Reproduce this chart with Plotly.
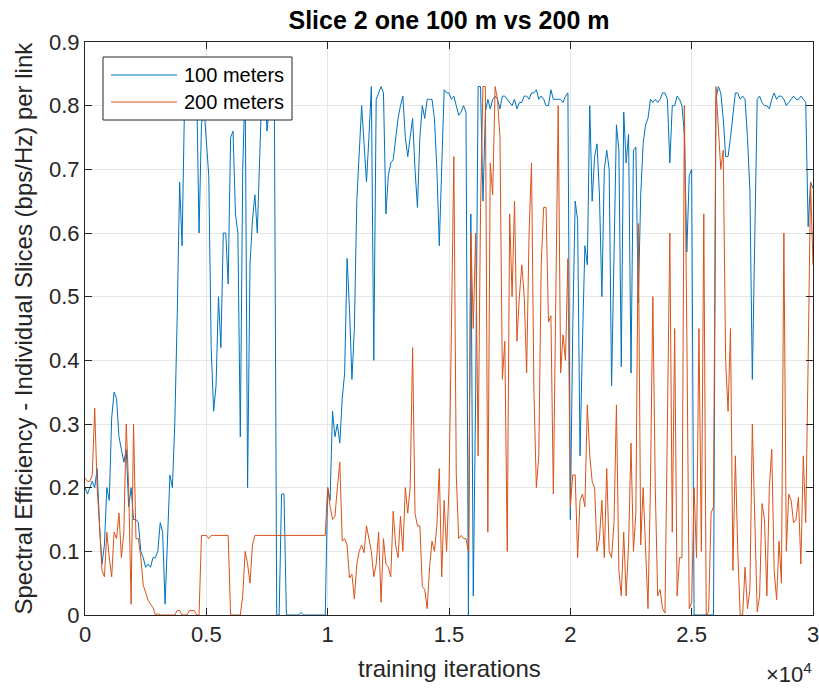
import numpy as np
import plotly.graph_objects as go

step = 100
iterations = np.arange(0, 30001, step)

blue_100m = [
    0.2, 0.19, 0.2, 0.21, 0.2, 0.23, 0.14, 0.08, 0.11, 0.2,            # 0-900
    0.18, 0.31, 0.35, 0.34, 0.28, 0.26, 0.24, 0.26, 0.17, 0.2,         # 1000-1900
    0.15, 0.15, 0.145, 0.1, 0.09, 0.075, 0.08, 0.075, 0.09, 0.09,      # 2000-2900
    0.1, 0.145, 0.13, 0.017, 0.12, 0.22, 0.2, 0.3, 0.47, 0.68,         # 3000-3900
    0.58, 0.8, 0.83, 0.83, 0.83, 0.82, 0.83, 0.6, 0.77, 0.8,           # 4000-4900
    0.75, 0.69, 0.42, 0.32, 0.36, 0.5, 0.42, 0.6, 0.6, 0.52,           # 5000-5900
    0.75, 0.76, 0.63, 0.6, 0.28, 0.7, 0.84, 0.2, 0.55, 0.62,           # 6000-6900
    0.66, 0.6, 0.72, 0.84, 0.84, 0.76, 0.8, 0.84, 0.84, 0.0,           # 7000-7900
    0.0, 0.19, 0.19, 0.0, 0.0, 0.0, 0.0, 0.0, 0.0, 0.004,              # 8000-8900
    0.0, 0.0, 0.0, 0.0, 0.0, 0.0, 0.0, 0.0, 0.0, 0.0,                  # 9000-9900
    0.2, 0.18, 0.32, 0.28, 0.3, 0.27, 0.34, 0.38, 0.56, 0.48,          # 10000-10900
    0.37, 0.45, 0.65, 0.72, 0.8, 0.74, 0.68, 0.75, 0.83, 0.4,          # 11000-11900
    0.81, 0.82, 0.83, 0.82, 0.63, 0.69, 0.71, 0.715, 0.75, 0.78,       # 12000-12900
    0.8, 0.815, 0.75, 0.72, 0.75, 0.78, 0.7, 0.64, 0.75, 0.8,          # 13000-13900
    0.78, 0.81, 0.81, 0.81, 0.78, 0.7, 0.58, 0.7, 0.825, 0.82,         # 14000-14900
    0.82, 0.81, 0.815, 0.8, 0.785, 0.79, 0.8, 0.79, 0.0, 0.63,         # 15000-15900
    0.03, 0.35, 0.83, 0.83, 0.65, 0.79, 0.81, 0.795, 0.81, 0.815,      # 16000-16900
    0.81, 0.795, 0.815, 0.815, 0.81, 0.805, 0.8, 0.81, 0.795, 0.805,   # 17000-17900
    0.805, 0.815, 0.815, 0.81, 0.82, 0.82, 0.825, 0.81, 0.815, 0.81,   # 18000-18900
    0.8, 0.8, 0.825, 0.81, 0.81, 0.81, 0.81, 0.805, 0.815, 0.82,       # 19000-19900
    0.15, 0.45, 0.65, 0.62, 0.25, 0.43, 0.58, 0.55, 0.8, 0.65,         # 20000-20900
    0.72, 0.74, 0.66, 0.5, 0.7, 0.73, 0.7, 0.36, 0.6, 0.77,            # 21000-21900
    0.73, 0.39, 0.79, 0.71, 0.755, 0.38, 0.73, 0.735, 0.49, 0.66,      # 22000-22900
    0.74, 0.77, 0.78, 0.81, 0.805, 0.81, 0.805, 0.81, 0.82, 0.82,      # 23000-23900
    0.81, 0.71, 0.8, 0.8, 0.815, 0.81, 0.8, 0.755, 0.57, 0.69,         # 24000-24900
    0.7, 0.0, 0.0, 0.0, 0.0, 0.0, 0.0, 0.0, 0.0, 0.0,                  # 25000-25900
    0.81, 0.83, 0.82, 0.78, 0.72, 0.72, 0.75, 0.79, 0.82, 0.82,        # 26000-26900
    0.81, 0.815, 0.81, 0.75, 0.665, 0.37, 0.6, 0.81, 0.815, 0.805,     # 27000-27900
    0.8, 0.8, 0.795, 0.81, 0.82, 0.81, 0.815, 0.815, 0.81, 0.8,        # 28000-28900
    0.805, 0.81, 0.815, 0.81, 0.81, 0.815, 0.81, 0.805, 0.61, 0.68,    # 29000-29900
    0.67,                                                              # 30000
]

orange_200m = [
    0.215, 0.21, 0.21, 0.22, 0.325, 0.2, 0.14, 0.07, 0.06, 0.13,       # 0-900
    0.09, 0.06, 0.13, 0.12, 0.16, 0.09, 0.13, 0.3, 0.2, 0.017,         # 1000-1900
    0.3, 0.12, 0.12, 0.09, 0.047, 0.035, 0.023, 0.017, 0.012, 0.0,     # 2000-2900
    0.002, 0.0, 0.0, 0.0, 0.0, 0.0, 0.0, 0.0, 0.007, 0.007,            # 3000-3900
    0.0, 0.0, 0.0, 0.007, 0.007, 0.007, 0.0, 0.0, 0.125, 0.125,        # 4000-4900
    0.125, 0.12, 0.125, 0.125, 0.125, 0.125, 0.125, 0.125, 0.125, 0.125,  # 5000-5900
    0.0, 0.0, 0.0, 0.0, 0.0, 0.03, 0.1, 0.08, 0.05, 0.11,              # 6000-6900
    0.125, 0.125, 0.125, 0.125, 0.125, 0.125, 0.125, 0.125, 0.125, 0.125,  # 7000-7900
    0.125, 0.125, 0.125, 0.125, 0.125, 0.125, 0.125, 0.125, 0.125, 0.125,  # 8000-8900
    0.125, 0.125, 0.125, 0.125, 0.125, 0.125, 0.125, 0.125, 0.125, 0.125,  # 9000-9900
    0.2, 0.17, 0.15, 0.155, 0.2, 0.24, 0.116, 0.12, 0.11, 0.058,       # 10000-10900
    0.064, 0.025, 0.08, 0.1, 0.11, 0.098, 0.14, 0.122, 0.1, 0.06,      # 11000-11900
    0.08, 0.13, 0.02, 0.12, 0.08, 0.075, 0.06, 0.163, 0.11, 0.09,      # 12000-12900
    0.155, 0.1, 0.2, 0.16, 0.2, 0.42, 0.16, 0.14, 0.14, 0.045,         # 13000-13900
    0.04, 0.01, 0.075, 0.116, 0.1, 0.14, 0.23, 0.06, 0.18, 0.1,        # 14000-14900
    0.2, 0.45, 0.72, 0.22, 0.12, 0.125, 0.12, 0.12, 0.1, 0.6,          # 15000-15900
    0.45, 0.6, 0.25, 0.64, 0.83, 0.83, 0.13, 0.71, 0.66, 0.83,         # 16000-16900
    0.81, 0.75, 0.37, 0.43, 0.1, 0.63, 0.5, 0.65, 0.43, 0.5,           # 17000-17900
    0.55, 0.5, 0.38, 0.6, 0.71, 0.35, 0.2, 0.25, 0.55, 0.64,           # 18000-18900
    0.64, 0.46, 0.47, 0.19, 0.5, 0.8, 0.38, 0.44, 0.4, 0.56,           # 19000-19900
    0.17, 0.22, 0.22, 0.09, 0.18, 0.19, 0.17, 0.33, 0.25, 0.21,        # 20000-20900
    0.2, 0.1, 0.12, 0.18, 0.09, 0.23, 0.1, 0.09, 0.145, 0.33,          # 21000-21900
    0.07, 0.03, 0.13, 0.03, 0.11, 0.27, 0.1, 0.16, 0.615, 0.11,        # 22000-22900
    0.2, 0.116, 0.01, 0.2, 0.5, 0.2, 0.03, 0.04, 0.01, 0.003,          # 23000-23900
    0.3, 0.6, 0.13, 0.45, 0.03, 0.09, 0.09, 0.8, 0.45, 0.01,           # 24000-24900
    0.02, 0.2, 0.09, 0.45, 0.1, 0.63, 0.0, 0.005, 0.16, 0.17,          # 25000-25900
    0.83, 0.76, 0.7, 0.73, 0.4, 0.32, 0.45, 0.07, 0.25, 0.1,           # 26000-26900
    0.0, 0.0, 0.075, 0.01, 0.04, 0.3, 0.15, 0.005, 0.03, 0.175,        # 27000-27900
    0.15, 0.03, 0.2, 0.26, 0.07, 0.024, 0.116, 0.05, 0.6, 0.1,         # 28000-28900
    0.19, 0.18, 0.145, 0.15, 0.185, 0.08, 0.25, 0.145, 0.4, 0.68,      # 29000-29900
    0.55,                                                              # 30000
]

series_names = ["100 meters", "200 meters"]
series_colors = ["#0072BD", "#D95319"]

x_tickvals = [0, 5000, 10000, 15000, 20000, 25000, 30000]
x_ticktext = ["0", "0.5", "1", "1.5", "2", "2.5", "3"]
y_tickvals = [0, 0.1, 0.2, 0.3, 0.4, 0.5, 0.6, 0.7, 0.8, 0.9]
y_ticktext = ["0", "0.1", "0.2", "0.3", "0.4", "0.5", "0.6", "0.7", "0.8", "0.9"]

FONT = "Liberation Sans, Arial, sans-serif"
AX = "#262626"
GRID = "#e6e6e6"

W, H = 819, 689
L, R, T, B = 85, 6, 42, 74
PW, PH = W - L - R, H - T - B


def px_x(p):
    return (p - L) / PW


def px_y(p):
    return (H - B - p) / PH


fig = go.Figure()
for ys, name, col in zip([blue_100m, orange_200m], series_names, series_colors):
    fig.add_trace(go.Scatter(x=iterations, y=ys, mode="lines", name=name,
                             line=dict(color=col, width=1), showlegend=False))

fig.update_layout(
    width=W, height=H,
    margin=dict(l=L, r=R, t=T, b=B, autoexpand=False),
    paper_bgcolor="white", plot_bgcolor="white",
    font=dict(family=FONT, size=22, color=AX),
    title=dict(text="<b>Slice 2 one 100 m vs 200 m</b>", x=0.5, xref="paper",
               y=1 - 20 / H, yref="container", yanchor="middle",
               font=dict(family=FONT, size=25, color="black")),
    showlegend=False,
)
fig.update_xaxes(
    range=[0, 30000], tickvals=x_tickvals, ticktext=x_ticktext, automargin=False,
    showgrid=True, gridcolor=GRID, gridwidth=1, zeroline=False,
    showline=True, linecolor=AX, linewidth=1, mirror="allticks",
    ticks="inside", ticklen=7, tickcolor=AX, ticklabeloverflow="allow",
    tickfont=dict(family=FONT, size=22, color=AX),
)
fig.update_yaxes(
    range=[0, 0.9], tickvals=y_tickvals, ticktext=y_ticktext, automargin=False,
    showgrid=True, gridcolor=GRID, gridwidth=1, zeroline=False,
    showline=True, linecolor=AX, linewidth=1, mirror="allticks",
    ticks="inside", ticklen=7, tickcolor=AX, ticklabeloverflow="allow",
    tickfont=dict(family=FONT, size=22, color=AX),
)

# axis titles
fig.add_annotation(text="training iterations", xref="paper", yref="paper",
                   x=0.5, y=px_y(668), xanchor="center", yanchor="middle", showarrow=False,
                   font=dict(family=FONT, size=24, color=AX))
fig.add_annotation(text="Spectral Efficiency - Individual Slices (bps/Hz) per link",
                   xref="paper", yref="paper", x=px_x(23), y=0.5, textangle=-90,
                   xanchor="center", yanchor="middle", showarrow=False,
                   font=dict(family=FONT, size=24, color=AX))
fig.add_annotation(text="×10<sup>4</sup>", xref="paper", yref="paper",
                   x=px_x(814), y=px_y(673), xanchor="right", yanchor="middle", showarrow=False,
                   font=dict(family=FONT, size=22, color=AX))

# legend box (MATLAB style)
fig.add_shape(type="rect", xref="paper", yref="paper", layer="above",
              x0=px_x(103), x1=px_x(292), y0=px_y(120), y1=px_y(57),
              fillcolor="white", line=dict(color=AX, width=1))
for i, (name, col) in enumerate(zip(series_names, series_colors)):
    yc = px_y(75 + 27 * i)
    fig.add_shape(type="line", xref="paper", yref="paper", layer="above",
                  x0=px_x(111), x1=px_x(177), y0=yc, y1=yc,
                  line=dict(color=col, width=1))
    fig.add_annotation(text=name, xref="paper", yref="paper", x=px_x(182), y=yc,
                       xanchor="left", yanchor="middle", showarrow=False,
                       font=dict(family=FONT, size=20, color="black"))

fig.write_html("out.html", config={"displayModeBar": False},
               post_script="document.body.style.margin='0px';")
